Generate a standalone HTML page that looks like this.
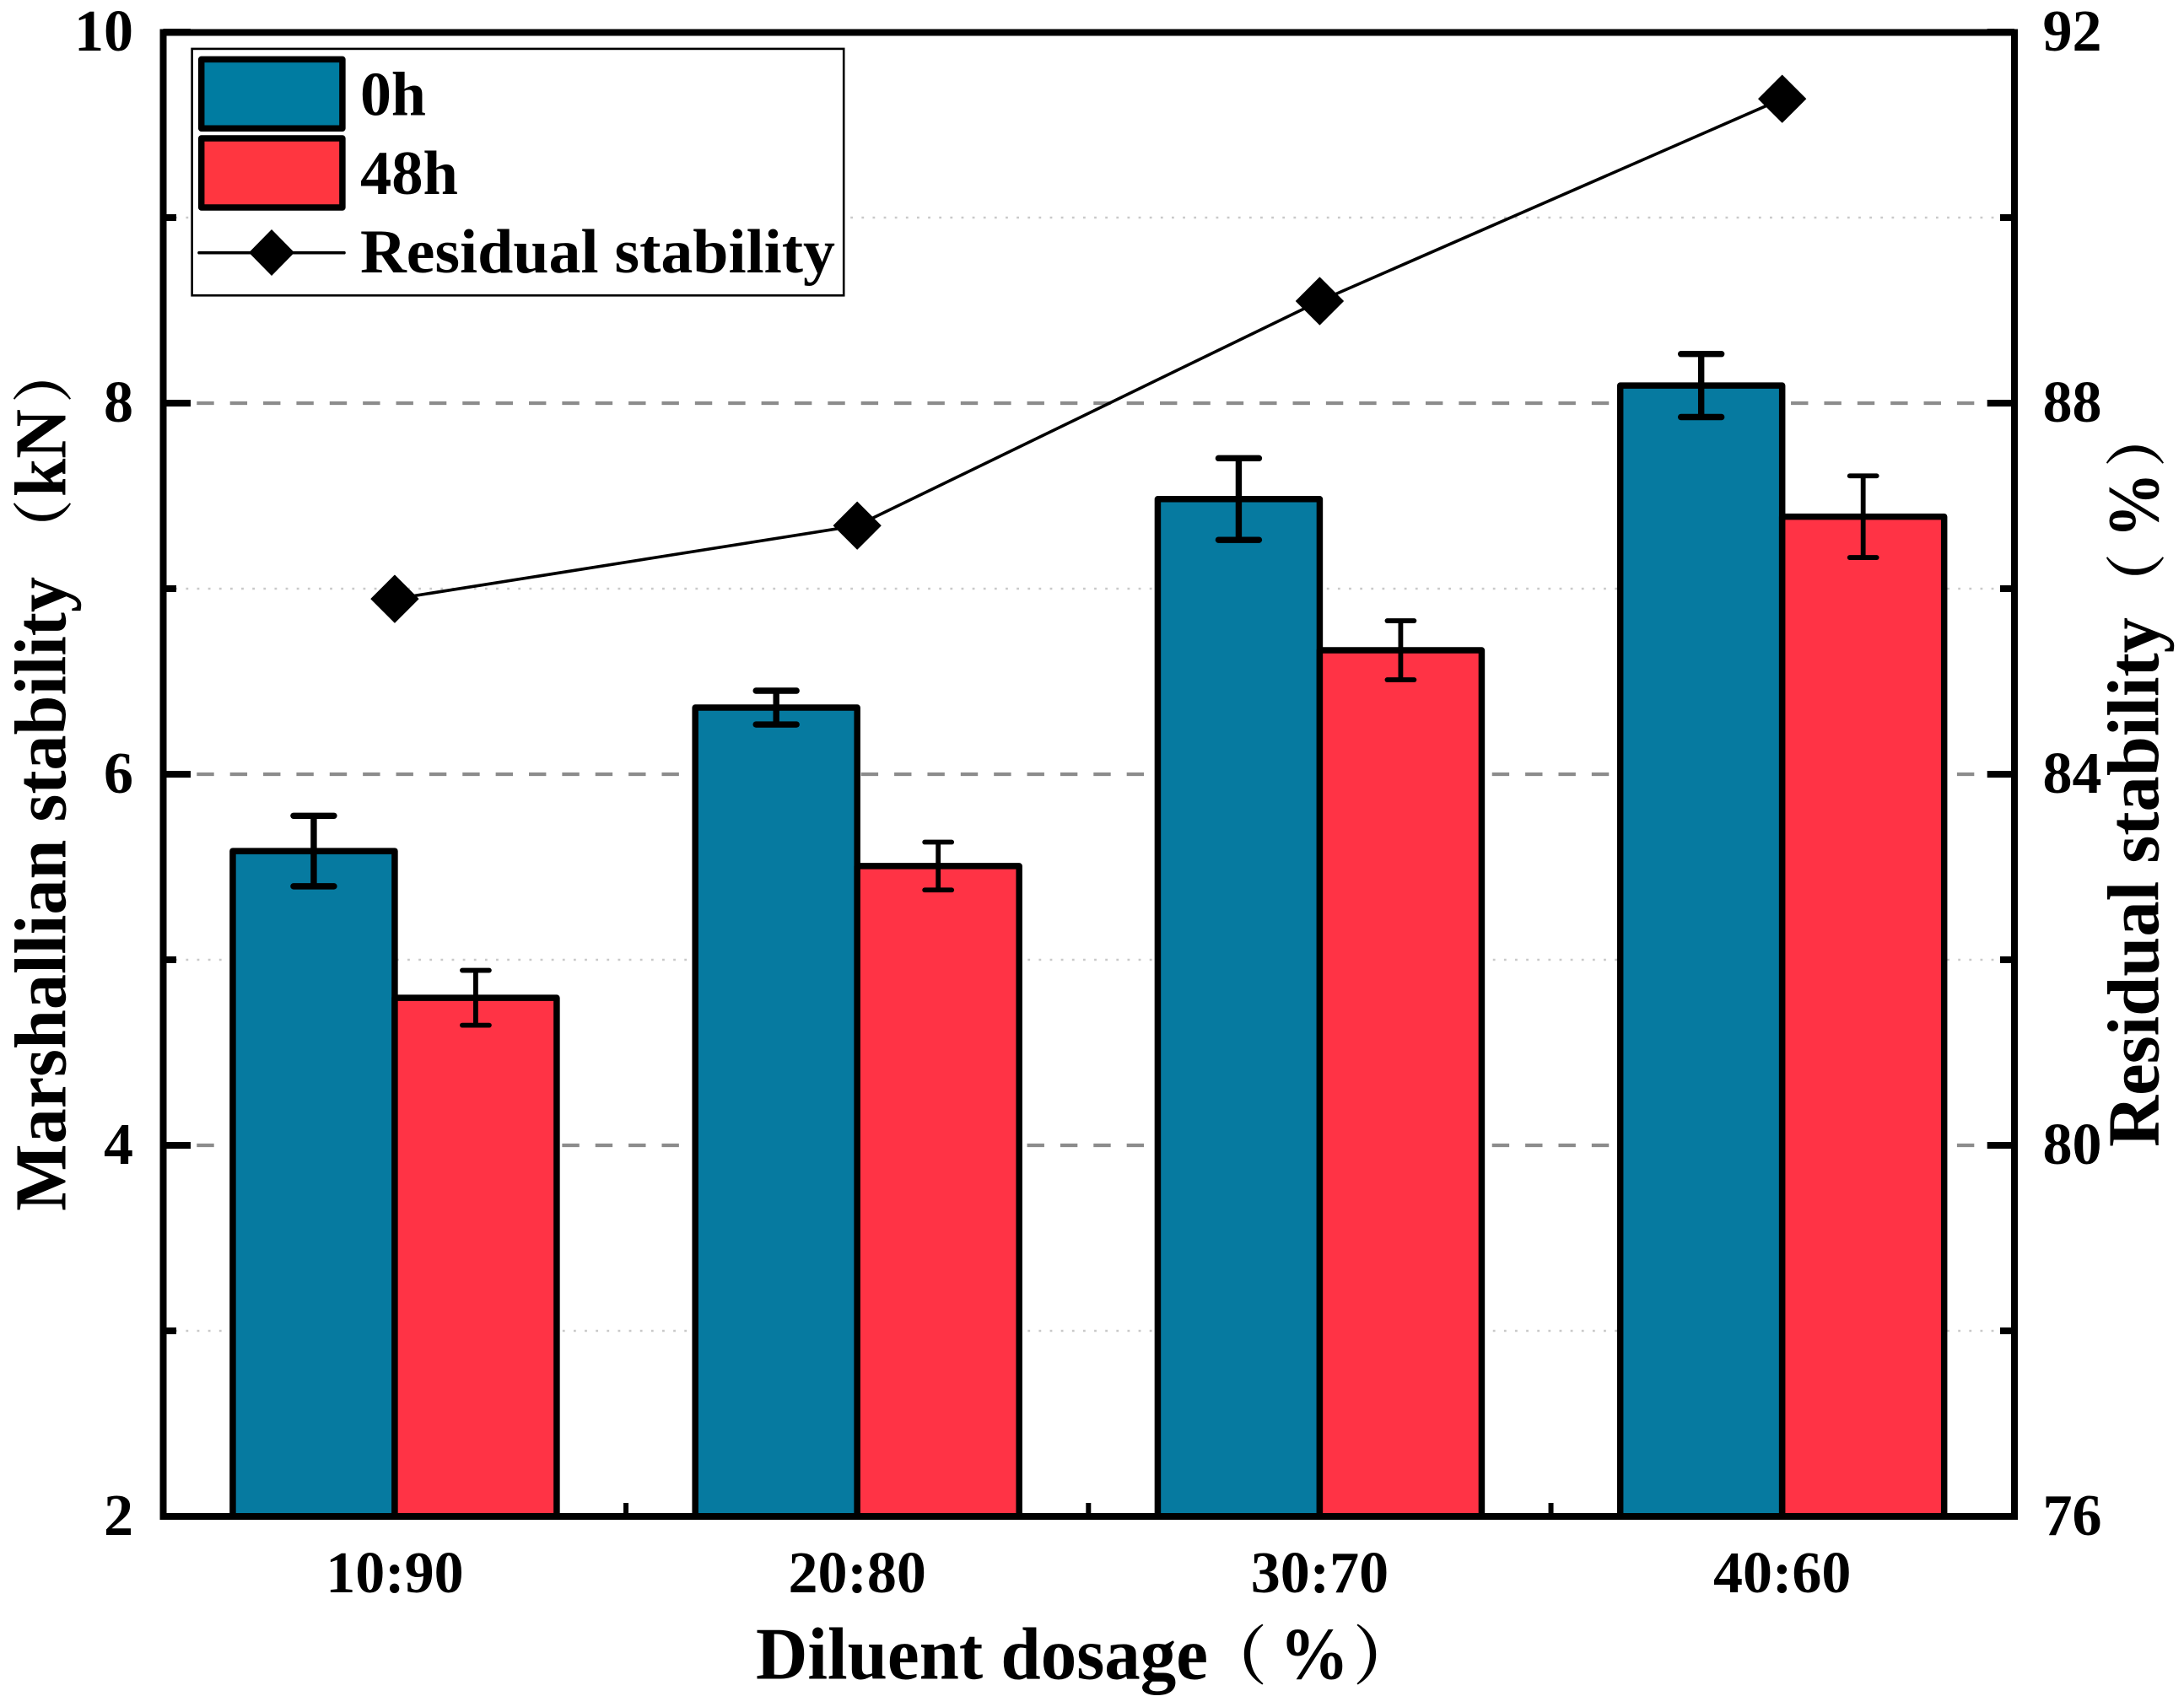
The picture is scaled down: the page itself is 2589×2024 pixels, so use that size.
<!DOCTYPE html>
<html lang="en">
<head>
<meta charset="utf-8">
<title>Marshallian stability and residual stability vs diluent dosage</title>
<style>
html,body{margin:0;padding:0;background:#fff;}
body{width:2589px;height:2024px;overflow:hidden;}
svg{display:block;}
text{font-family:"Liberation Serif","Noto Serif CJK SC",serif;font-weight:bold;fill:#000;}
.paren{font-family:"Noto Serif CJK SC","Liberation Serif",serif;font-weight:bold;}
</style>
</head>
<body>
<svg id="chart" xmlns="http://www.w3.org/2000/svg" width="2589" height="2024" viewBox="0 0 2589 2024">
  <rect x="0" y="0" width="2589" height="2024" fill="#ffffff"/>
  <g id="grid"></g>
  <g id="xTicks"></g>
  <g id="bars"></g>
  <g id="errors"></g>
  <g id="line"></g>
  <rect x="193.5" y="38.5" width="2194.5" height="1759.5" fill="none" stroke="#000" stroke-width="8"/>
  <g id="yTicks"></g>
  <g id="labels"></g>

  <text y="1990.5" font-size="88"><tspan x="896" textLength="536" lengthAdjust="spacingAndGlyphs">Diluent dosage</tspan><tspan class="paren" x="1426" font-size="76">（</tspan><tspan x="1517" font-size="88" textLength="82" lengthAdjust="spacingAndGlyphs">%</tspan><tspan class="paren" x="1604" font-size="76">）</tspan></text>

  <text transform="translate(77.7,1436) rotate(-90)" font-size="87"><tspan x="0" y="0" textLength="752" lengthAdjust="spacingAndGlyphs">Marshallian stability</tspan><tspan class="paren" x="772" font-size="72">（</tspan><tspan x="847" textLength="104" lengthAdjust="spacingAndGlyphs">kN</tspan><tspan class="paren" x="958" font-size="72">）</tspan></text>

  <text transform="translate(2558.3,1360) rotate(-90)" font-size="87"><tspan x="0" y="0" textLength="628" lengthAdjust="spacingAndGlyphs">Residual stability</tspan><tspan class="paren" x="632" font-size="72">（</tspan><tspan x="722" textLength="78" lengthAdjust="spacingAndGlyphs">%</tspan><tspan class="paren" x="806" font-size="72">）</tspan></text>

  <g>
    <rect x="227.6" y="57.9" width="772.6" height="292.4" fill="#fff" stroke="#000" stroke-width="2.6"/>
    <rect x="238.7" y="70.4" width="167.2" height="81.8" fill="#007ca1" stroke="#000" stroke-width="7.5" stroke-linejoin="round"/>
    <text x="427" y="136.7" font-size="74" textLength="78" lengthAdjust="spacingAndGlyphs">0h</text>
    <rect x="238.7" y="164" width="167.2" height="82" fill="#ff3640" stroke="#000" stroke-width="7.5" stroke-linejoin="round"/>
    <text x="427" y="230" font-size="74" textLength="116" lengthAdjust="spacingAndGlyphs">48h</text>
    <line x1="236" y1="299.7" x2="408" y2="299.7" stroke="#000" stroke-width="3.6" stroke-linecap="round"/>
    <polygon points="322,272 349,299.5 322,327 295,299.5" fill="#000"/>
    <text x="427" y="323" font-size="74" textLength="563" lengthAdjust="spacingAndGlyphs">Residual stability</text>
  </g>
</svg>

<script>
// ---- chart data ----
const categories = ['10:90', '20:80', '30:70', '40:60'];
const stability0h = [5.586, 6.359, 7.483, 8.095];
const stability48h = [4.795, 5.505, 6.668, 7.388];
const error0h = [0.19, 0.091, 0.22, 0.17];
const error48h = [0.148, 0.129, 0.159, 0.22];
const residualStability = [85.89, 86.68, 89.10, 91.28];
const leftMajorTicks = [2, 4, 6, 8, 10];
const leftMinorTicks = [3, 5, 7, 9];
const leftGridDashed = [4, 6, 8];
const rightTickLabels = [76, 80, 84, 88, 92];

// ---- axis functions ----
const plotRight = 2388, plotTop = 38, plotBottom = 1798;
const bandOrigin = 193.8, bandWidth = 548.25;
const leftMin = 2, leftMax = 10, rightMin = 76, rightMax = 92;
const barWidth = 192;
function yLeft(v) { return plotBottom - (v - leftMin) / (leftMax - leftMin) * (plotBottom - plotTop); }
function yRight(v) { return plotBottom - (v - rightMin) / (rightMax - rightMin) * (plotBottom - plotTop); }
function xCenter(i) { return bandOrigin + (i + 0.5) * bandWidth; }
function xBoundary(i) { return bandOrigin + i * bandWidth; }

const NS = 'http://www.w3.org/2000/svg';
function mk(tag, parentId, attrs) {
  const el = document.createElementNS(NS, tag);
  for (const k in attrs) el.setAttribute(k, attrs[k]);
  document.getElementById(parentId).appendChild(el);
  return el;
}

// grid lines
leftGridDashed.forEach(function (v) {
  const el = mk('line', 'grid', { x1: 233.3, x2: 2350, y1: yLeft(v), y2: yLeft(v), stroke: '#8c8c8c', 'stroke-width': 4.2, 'stroke-dasharray': '20.4 18.97' });
  
  
});
leftMinorTicks.forEach(function (v) {
  const el = mk('line', 'grid', { x1: 207.3, x2: 2368, y1: yLeft(v), y2: yLeft(v), stroke: '#c9c9c9', 'stroke-width': 2.6, 'stroke-dasharray': '2.8 10.33' });
  
  
});

// x ticks
categories.forEach(function (c, i) {
  const el = mk('line', 'xTicks', { x1: xCenter(i), x2: xCenter(i), y1: plotBottom, y2: plotBottom - 28, stroke: '#000', 'stroke-width': 6 });
  
  
  if (i > 0) {
    const m = mk('line', 'xTicks', { x1: xBoundary(i), x2: xBoundary(i), y1: plotBottom, y2: plotBottom - 16, stroke: '#000', 'stroke-width': 6 });
    
    
  }
});

// bars
categories.forEach(function (c, i) {
  const top0 = yLeft(stability0h[i]);
  const b0 = mk('rect', 'bars', { x: xCenter(i) - barWidth, y: top0, width: barWidth, height: plotBottom - top0, fill: '#067aa0', stroke: '#000', 'stroke-width': 7.5, 'stroke-linejoin': 'round' });
  
  
  const top48 = yLeft(stability48h[i]);
  const b48 = mk('rect', 'bars', { x: xCenter(i), y: top48, width: barWidth, height: plotBottom - top48, fill: '#ff3345', stroke: '#000', 'stroke-width': 7.5, 'stroke-linejoin': 'round' });
  
  
});

// error bars
function drawError(cx, value, err, halfCap, thick) {
  const yHi = yLeft(value + err), yLo = yLeft(value - err);
  const stem = mk('line', 'errors', { x1: cx, x2: cx, y1: yHi, y2: yLo, stroke: '#000', 'stroke-width': thick });
  
  
  const capHi = mk('line', 'errors', { x1: cx - halfCap, x2: cx + halfCap, y1: yHi, y2: yHi, stroke: '#000', 'stroke-width': thick, 'stroke-linecap': 'round' });
  
  
  const capLo = mk('line', 'errors', { x1: cx - halfCap, x2: cx + halfCap, y1: yLo, y2: yLo, stroke: '#000', 'stroke-width': thick, 'stroke-linecap': 'round' });
  
  
}
categories.forEach(function (c, i) {
  drawError(xCenter(i) - barWidth / 2, stability0h[i], error0h[i], 24, 7.4);
  drawError(xCenter(i) + barWidth / 2, stability48h[i], error48h[i], 16, 5.8);
});

// residual stability line and markers
const pts = residualStability.map(function (v, i) { return xCenter(i) + ',' + yRight(v); }).join(' ');
const poly = mk('polyline', 'line', { points: pts, fill: 'none', stroke: '#000', 'stroke-width': 3.6 });


residualStability.forEach(function (v, i) {
  const x = xCenter(i), y = yRight(v), r = 28;
  const d = mk('polygon', 'line', { points: [x, y - r, x + r, y, x, y + r, x - r, y].join(' '), fill: '#000', stroke: '#000', 'stroke-width': 1, 'stroke-linejoin': 'round' });
  
  
});

// y ticks
leftMajorTicks.forEach(function (v) {
  const l = mk('line', 'yTicks', { x1: 193.5, x2: 226, y1: yLeft(v), y2: yLeft(v), stroke: '#000', 'stroke-width': 8 });
  
  
  const r = mk('line', 'yTicks', { x1: 2355.7, x2: plotRight, y1: yLeft(v), y2: yLeft(v), stroke: '#000', 'stroke-width': 8 });
  
  
});
leftMinorTicks.forEach(function (v) {
  const l = mk('line', 'yTicks', { x1: 193.5, x2: 209, y1: yLeft(v), y2: yLeft(v), stroke: '#000', 'stroke-width': 8 });
  
  
  const r = mk('line', 'yTicks', { x1: 2371, x2: plotRight, y1: yLeft(v), y2: yLeft(v), stroke: '#000', 'stroke-width': 8 });
  
  
});

// tick labels
leftMajorTicks.forEach(function (v) {
  const t = mk('text', 'labels', { x: 158, y: yLeft(v) + 22, 'text-anchor': 'end', 'font-size': 70 });
  
  
  t.textContent = String(v);
});
rightTickLabels.forEach(function (v) {
  const t = mk('text', 'labels', { x: 2421.5, y: yRight(v) + 22, 'text-anchor': 'start', 'font-size': 70 });
  
  
  t.textContent = String(v);
});
categories.forEach(function (c, i) {
  const t = mk('text', 'labels', { x: xCenter(i), y: 1888, 'text-anchor': 'middle', 'font-size': 70 });
  
  
  t.textContent = c;
});
</script>
</body>
</html>
